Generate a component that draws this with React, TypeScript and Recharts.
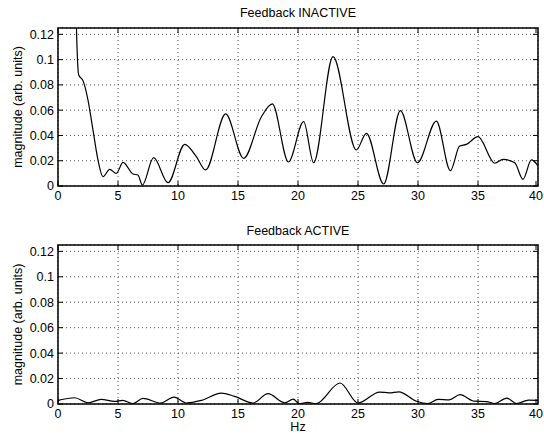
import { LineChart, Line, XAxis, YAxis, CartesianGrid, ReferenceArea } from 'recharts'

// spectrum, feedback off (Hz, magnitude)
const inactiveHz = [
  1.3, 1.55, 1.72, 2.1, 2.5, 2.92, 3.33, 3.75, 4.31, 4.86, 5.42, 6.25, 6.66, 7.03, 7.97,
  9.17, 10.56, 11.53, 12.3, 13.97, 15.47, 16.95, 17.86, 19.2, 20.47, 21.3, 22.92, 24.86,
  25.7, 27.14, 28.53, 29.95, 31.53, 32.7, 33.47, 34.03, 35.0, 36.4, 37.08, 38.06, 38.75,
  39.45, 40.0,
]
const inactiveMag = [
  0.25, 0.12, 0.088, 0.083, 0.068, 0.044, 0.0206, 0.0074, 0.0132, 0.01, 0.0187, 0.0095,
  0.0087, 0.0008, 0.0224, 0.0026, 0.033, 0.0232, 0.0127, 0.057, 0.0219, 0.0548, 0.0649,
  0.019, 0.0509, 0.0184, 0.1023, 0.0285, 0.0417, 0.0016, 0.0596, 0.0184, 0.0514, 0.0121,
  0.0316, 0.0329, 0.039, 0.018, 0.021, 0.0184, 0.0053, 0.0206, 0.016,
]

// spectrum, feedback on
const activeHz = [
  0, 1.39, 2.5, 3.6, 4.72, 5.4, 6.25, 7.08, 8.56, 9.67, 10.7, 11.95, 13.6, 14.72, 16.25,
  17.5, 18.9, 19.6, 20.1, 20.8, 21.5, 23.5, 25.0, 26.8, 27.6, 28.4, 29.87, 30.83, 31.67,
  32.6, 33.5, 34.7, 35.7, 36.4, 37.4, 38.2, 39.2, 40,
]
const activeMag = [
  0.0028, 0.0049, 0.001, 0.0036, 0.002, 0.0028, 0.0003, 0.0044, 0.0007, 0.0054, 0.0008,
  0.0028, 0.0086, 0.006, 0.0008, 0.0081, 0.001, 0.0038, 0.0003, 0.0013, 0.0003, 0.0165,
  0.0008, 0.0094, 0.0088, 0.0096, 0.0022, 0.0004, 0.0036, 0.0033, 0.0073, 0.0022, 0.0019,
  0.0004, 0.0046, 0.0004, 0.003, 0.0028,
]

const xTicks = [0, 5, 10, 15, 20, 25, 30, 35, 40]
const yTicks = [0, 0.02, 0.04, 0.06, 0.08, 0.1, 0.12]

const FONT = '"Liberation Sans", Arial, Helvetica, sans-serif'
const W = 544
const H = 217
const PLOT_LEFT = 58
const PLOT_RIGHT = 538
const PLOT_TOP = 28
const TICK_LEN = 5

const fmtY = (v: number) => String(+v.toFixed(2))

function SpectrumPanel({
  hz, mag, xAxisHeight, showHz,
}: { hz: number[]; mag: number[]; xAxisHeight: number; showHz?: boolean }) {
  const data = hz.map((f, i) => ({ hz: f, mag: mag[i] }))
  const plotBottom = H - xAxisHeight

  const xTick = (props: any) => {
    const { x, y, payload } = props
    return (
      <g>
        <line x1={x} x2={x} y1={plotBottom} y2={plotBottom - TICK_LEN} stroke="#000" />
        <line x1={x} x2={x} y1={PLOT_TOP} y2={PLOT_TOP + TICK_LEN} stroke="#000" />
        <text x={x} y={y} dy="0.71em" textAnchor="middle" fill="#000" fontSize={12.5} fontFamily={FONT}>
          {payload.value}
        </text>
      </g>
    )
  }

  const yTick = (props: any) => {
    const { x, y, payload } = props
    return (
      <g>
        <line x1={PLOT_LEFT} x2={PLOT_LEFT + TICK_LEN} y1={y} y2={y} stroke="#000" />
        <line x1={PLOT_RIGHT} x2={PLOT_RIGHT - TICK_LEN} y1={y} y2={y} stroke="#000" />
        <text x={x} y={y} dy="0.355em" textAnchor="end" fill="#000" fontSize={12.5} fontFamily={FONT}>
          {fmtY(payload.value)}
        </text>
      </g>
    )
  }

  return (
    <LineChart
      width={W}
      height={H}
      data={data}
      margin={{ top: PLOT_TOP, right: W - PLOT_RIGHT, bottom: 0, left: 0 }}
    >
      <CartesianGrid stroke="#555" strokeDasharray="1 3" />
      <XAxis
        dataKey="hz"
        type="number"
        domain={[0, 40]}
        ticks={xTicks}
        allowDataOverflow
        height={xAxisHeight}
        axisLine={false}
        tickLine={false}
        tickSize={0}
        tickMargin={5}
        tick={xTick}
        label={showHz ? { value: 'Hz', position: 'insideBottom', offset: 3, fill: '#000', fontSize: 12.5 } : undefined}
      />
      <YAxis
        type="number"
        domain={[0, 0.125]}
        ticks={yTicks}
        allowDataOverflow
        width={PLOT_LEFT}
        axisLine={false}
        tickLine={false}
        tickSize={0}
        tickMargin={4}
        tick={yTick}
        label={{
          value: 'magnitude (arb. units)',
          angle: -90,
          position: 'insideLeft',
          offset: 18,
          fill: '#000',
          fontSize: 12.5,
          style: { textAnchor: 'middle' },
        }}
      />
      <ReferenceArea x1={0} x2={40} y1={0} y2={0.125} fill="none" stroke="#000" strokeWidth={1.5} ifOverflow="visible" />
      <Line
        dataKey="mag"
        type="monotone"
        stroke="#000"
        strokeWidth={1.2}
        dot={false}
        activeDot={false}
        isAnimationActive={false}
      />
    </LineChart>
  )
}

const titleStyle = (top: number): React.CSSProperties => ({
  position: 'absolute',
  left: PLOT_LEFT,
  width: PLOT_RIGHT - PLOT_LEFT,
  top,
  textAlign: 'center',
  fontSize: 12.5,
  lineHeight: '14px',
})

export default function App() {
  return (
    <div
      style={{
        position: 'absolute',
        left: 0,
        top: 0,
        width: W,
        height: 434,
        background: '#fff',
        fontFamily: FONT,
        color: '#000',
        overflow: 'hidden',
      }}
    >
      <div style={{ position: 'absolute', left: 0, top: 0 }}>
        <SpectrumPanel hz={inactiveHz} mag={inactiveMag} xAxisHeight={31} />
      </div>
      <div style={{ position: 'absolute', left: 0, top: 217 }}>
        <SpectrumPanel hz={activeHz} mag={activeMag} xAxisHeight={30} showHz />
      </div>
      <div style={titleStyle(6)}>Feedback INACTIVE</div>
      <div style={titleStyle(224)}>Feedback ACTIVE</div>
    </div>
  )
}
